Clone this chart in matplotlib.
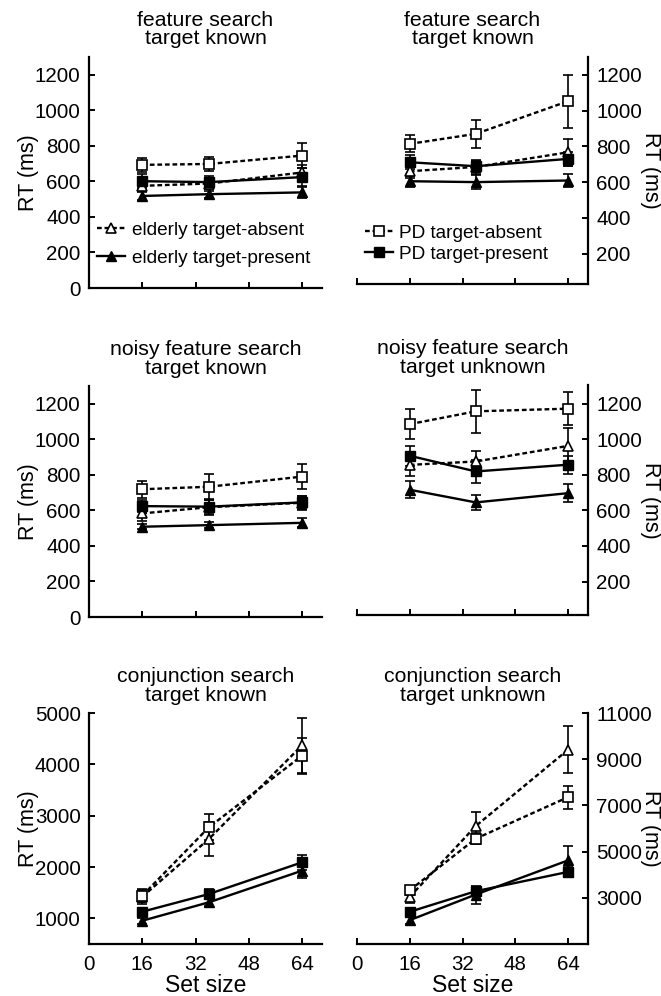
import matplotlib
matplotlib.use("Agg")
import matplotlib.pyplot as plt

plt.rcParams['font.family'] = ['Liberation Sans', 'DejaVu Sans']

# set sizes
set_size = [16, 36, 64]

# panel titles
titles = ["feature search\ntarget known", "feature search\ntarget known",
          "noisy feature search\ntarget known", "noisy feature search\ntarget unknown",
          "conjunction search\ntarget known", "conjunction search\ntarget unknown"]

# RT means (ms) per panel: elderly absent / elderly present / PD absent / PD present
eld_abs = [[575, 588, 650], [661, 685, 767], [583, 618, 643],
           [856, 875, 963], [1420, 2545, 4370], [3043, 6108, 9416]]
eld_pres = [[518, 528, 538], [605, 600, 609], [508, 517, 530],
            [716, 645, 697], [953, 1312, 1928], [2033, 3142, 4623]]
pd_abs = [[693, 698, 745], [814, 870, 1053], [719, 733, 790],
          [1085, 1157, 1172], [1441, 2773, 4168], [3329, 5560, 7360]]
pd_pres = [[601, 596, 624], [711, 689, 730], [624, 621, 645],
           [907, 819, 857], [1129, 1473, 2091], [2396, 3286, 4122]]

# error bars (ms)
eld_abs_err = [[30, 30, 45], [40, 40, 77], [40, 40, 40],
               [60, 60, 103], [150, 330, 530], [250, 600, 1030]]
eld_pres_err = [[25, 20, 30], [30, 40, 35], [15, 15, 25],
                [47, 40, 50], [60, 80, 150], [150, 390, 620]]
pd_abs_err = [[40, 38, 71], [48, 80, 149], [48, 72, 71],
              [85, 122, 93], [120, 250, 350], [200, 250, 500]]
pd_pres_err = [[40, 35, 50], [40, 30, 40], [35, 45, 35],
               [56, 65, 50], [80, 90, 140], [150, 200, 200]]

# axis ranges and ticks
ylims = [(0, 1300), (30, 1300), (0, 1300), (12, 1305), (500, 5000), (1000, 11000)]
yticks = [[0, 200, 400, 600, 800, 1000, 1200], [200, 400, 600, 800, 1000, 1200],
          [0, 200, 400, 600, 800, 1000, 1200], [200, 400, 600, 800, 1000, 1200],
          [1000, 2000, 3000, 4000, 5000], [3000, 5000, 7000, 9000, 11000]]
xticks = [0, 16, 32, 48, 64]

W, H = 661, 996
# axes boxes in pixels (left, top, right, bottom)
boxes = [(89, 57, 322, 288), (357, 57, 588, 284),
         (89, 386, 322, 617), (357, 385, 588, 615),
         (89, 713, 322, 944), (357, 713, 588, 944)]

fig = plt.figure(figsize=(W / 100, H / 100), dpi=100)

lw = 1.7
for i in range(6):
    l, t, r, b = boxes[i]
    ax = fig.add_axes([l / W, 1 - b / H, (r - l) / W, (b - t) / H])
    right = (i % 2 == 1)

    # error bars first
    for m, e in [(eld_abs[i], eld_abs_err[i]), (eld_pres[i], eld_pres_err[i]),
                 (pd_abs[i], pd_abs_err[i]), (pd_pres[i], pd_pres_err[i])]:
        ax.errorbar(set_size, m, yerr=e, fmt='none', ecolor='black',
                    elinewidth=1.2, capsize=3.8, capthick=1.2, zorder=2)

    # lines + markers
    ax.plot(set_size, eld_abs[i], ls=(0, (2.0, 1.2)), lw=lw, color='black', marker='^',
            ms=7.5, mfc='white', mec='black', mew=1.2, zorder=3, label='elderly target-absent')
    ax.plot(set_size, eld_pres[i], ls='-', lw=lw, color='black', marker='^',
            ms=7.5, mfc='black', mec='black', zorder=3, label='elderly target-present')
    ax.plot(set_size, pd_abs[i], ls=(0, (2.0, 1.2)), lw=lw, color='black', marker='s',
            ms=6.5, mfc='white', mec='black', mew=1.2, zorder=4, label='PD target-absent')
    ax.plot(set_size, pd_pres[i], ls='-', lw=lw, color='black', marker='s',
            ms=6.5, mfc='black', mec='black', zorder=4, label='PD target-present')

    ax.set_xlim(0, 70)
    ax.set_ylim(*ylims[i])
    ax.set_xticks(xticks)
    ax.set_yticks(yticks[i])
    ax.set_title(titles[i], fontsize=15.3, pad=9, linespacing=0.95)

    ax.spines['top'].set_visible(False)
    for s in ax.spines.values():
        s.set_linewidth(1.6)
    if right:
        ax.spines['left'].set_visible(False)
        ax.yaxis.tick_right()
        ax.yaxis.set_label_position('right')
        ax.set_ylabel('RT (ms)', fontsize=15.5, rotation=270, va='center', ha='center')
        ax.yaxis.set_label_coords((650 - l) / (r - l), 0.5)
    else:
        ax.spines['right'].set_visible(False)
        ax.set_ylabel('RT (ms)', fontsize=15.5, va='center', ha='center')
        ax.yaxis.set_label_coords((28 - l) / (r - l), 0.5)
    ax.tick_params(direction='in', length=4, width=1.4, labelsize=14.8, pad=6)
    ax.tick_params(axis='x', pad=8)

    if i >= 4:
        ax.set_xlabel('Set size', fontsize=16.5, labelpad=0)
    else:
        ax.tick_params(axis='x', labelbottom=False)

    # legends in top row
    h, lab = ax.get_legend_handles_labels()
    if i == 0:
        ax.legend(h[:2], lab[:2], loc='lower left', bbox_to_anchor=(0.0, 0.06),
                  frameon=False, fontsize=13.7, handlelength=1.5, handletextpad=0.35,
                  labelspacing=0.55, borderaxespad=0.2, borderpad=0.2)
    elif i == 1:
        ax.legend(h[2:], lab[2:], loc='lower left', bbox_to_anchor=(0.0, 0.06),
                  frameon=False, fontsize=13.7, handlelength=1.5, handletextpad=0.3,
                  labelspacing=0.2, borderaxespad=0.2, borderpad=0.2)

fig.savefig('out.png', dpi=100)
